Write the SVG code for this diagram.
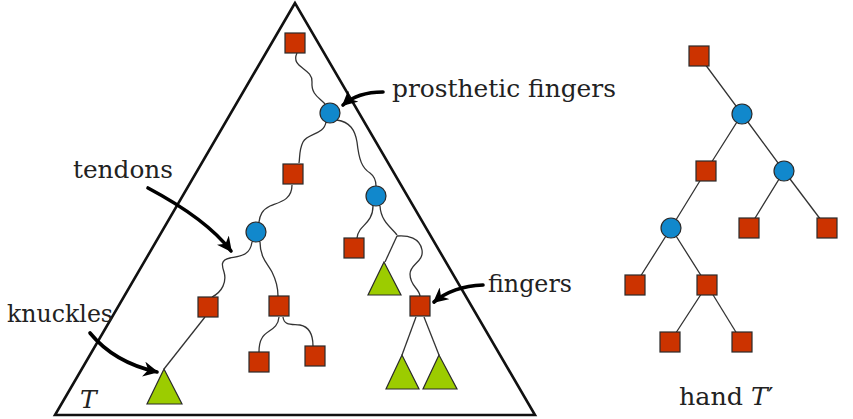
<svg xmlns="http://www.w3.org/2000/svg" width="853" height="419" viewBox="0 0 853 419">
<style>
.sq{fill:#cc3300;stroke:#2a2a2a;stroke-width:1.2}
.ci{fill:#1188cc;stroke:#2a2a2a;stroke-width:1.2}
.tr{fill:#9ccc00;stroke:#2a2a2a;stroke-width:1.2}
.ln{fill:none;stroke:#333;stroke-width:1.3}
.ar{fill:none;stroke:#000;stroke-width:3.6;stroke-linecap:round}
.lb{font-family:"DejaVu Serif","Liberation Serif",serif;font-size:25px;fill:#222}
</style>
<defs>
<marker id="ah" viewBox="0 0 10 10" refX="9" refY="5" markerWidth="4.2" markerHeight="4.2" orient="auto" markerUnits="strokeWidth">
<path d="M0,0 L10,5 L0,10 L3,5 z" fill="#000"/>
</marker>
</defs>
<rect width="853" height="419" fill="#fff"/>
<polygon id="T" points="295,3 55,415 535,415" fill="none" stroke="#111" stroke-width="2.6" stroke-linejoin="miter"/>

<g id="connectors">
<path class="ln" d="M297,53 C290,68 313,68 312,82 C311,95 320,98 325,104"/>
<path class="ln" d="M326,122 C324,135 308,133 303,142 C299,150 300,157 299,163"/>
<path class="ln" d="M337,120 C350,122 355,130 357,142 C359,160 362,168 370,173 C374,176 376,180 376,186"/>
<path class="ln" d="M292,185 C292,200 280,202 270,206 C262,210 260,215 259,222"/>
<path class="ln" d="M252,242 C250,256 240,256 230,258 C220,260 222,266 224,272 C227,282 222,292 212,297"/>
<path class="ln" d="M260,242 C260,258 268,264 272,272 C276,280 278,288 278,296"/>
<path class="ln" d="M279,317 C278,330 266,330 262,338 C259,343 259,348 259,352"/>
<path class="ln" d="M283,317 C284,326 292,324 300,325 C310,327 313,335 313,346"/>
<path class="ln" d="M205,317 L164,369"/>
<path class="ln" d="M373,206 C373,220 364,224 360,230 C358,233 357,236 357,238"/>
<path class="ln" d="M380,206 C381,222 392,228 397,235"/>
<path class="ln" d="M397,236 L385,262"/>
<path class="ln" d="M397,236 C408,235 420,238 422,250 C424,262 410,264 410,274 C410,286 419,288 420,296"/>
<path class="ln" d="M416,317 L402,355"/>
<path class="ln" d="M424,317 L439,355"/>
<path class="ln" d="M699,56 L742,114 L706,171 L671,228 L635,285"/>
<path class="ln" d="M742,114 L784,171 L749,228"/>
<path class="ln" d="M784,171 L827,228"/>
<path class="ln" d="M671,228 L707,285 L670,342"/>
<path class="ln" d="M707,285 L742,342"/>
</g>

<g id="arrows">
<path class="ar" d="M383,92 C365,92 352,97 343,105" marker-end="url(#ah)"/>
<path class="ar" d="M148,188 C180,205 212,226 231,251" marker-end="url(#ah)"/>
<path class="ar" d="M90,333 C108,355 130,366 157,372" marker-end="url(#ah)"/>
<path class="ar" d="M483,285 C460,286 446,292 434,302" marker-end="url(#ah)"/>
</g>

<g id="left-tree">
<rect id="s1" class="sq" x="285" y="33" width="20" height="20"/>
<circle id="c1" class="ci" cx="330" cy="113" r="10"/>
<rect id="s2" class="sq" x="283" y="164" width="20" height="20"/>
<circle id="c2" class="ci" cx="376" cy="196" r="10"/>
<circle id="c3" class="ci" cx="256" cy="232" r="10"/>
<rect id="s3" class="sq" x="344" y="238" width="20" height="20"/>
<polygon id="t1" class="tr" points="384,262 368,295 401,295"/>
<rect id="s4" class="sq" x="410" y="296" width="20" height="20"/>
<polygon id="t2" class="tr" points="402,355 386,389 419,389"/>
<polygon id="t3" class="tr" points="439,355 423,389 457,389"/>
<rect id="s5" class="sq" x="198" y="297" width="20" height="20"/>
<rect id="s6" class="sq" x="269" y="296" width="20" height="20"/>
<rect id="s7" class="sq" x="249" y="352" width="20" height="20"/>
<rect id="s8" class="sq" x="305" y="346" width="20" height="20"/>
<polygon id="t4" class="tr" points="164,369 147,404 182,404"/>
</g>

<g id="right-tree">
<rect id="r1" class="sq" x="689" y="46" width="20" height="20"/>
<circle id="rc1" class="ci" cx="742" cy="114" r="10"/>
<rect id="r2" class="sq" x="696" y="161" width="20" height="20"/>
<circle id="rc2" class="ci" cx="784" cy="171" r="10"/>
<circle id="rc3" class="ci" cx="671" cy="228" r="10"/>
<rect id="r3" class="sq" x="739" y="218" width="20" height="20"/>
<rect id="r4" class="sq" x="817" y="218" width="20" height="20"/>
<rect id="r5" class="sq" x="625" y="275" width="20" height="20"/>
<rect id="r6" class="sq" x="697" y="275" width="20" height="20"/>
<rect id="r7" class="sq" x="660" y="332" width="20" height="20"/>
<rect id="r8" class="sq" x="732" y="332" width="20" height="20"/>
</g>

<g id="labels">
<text class="lb" x="392" y="97" textLength="224" lengthAdjust="spacingAndGlyphs">prosthetic fingers</text>
<text class="lb" x="73" y="178" textLength="100" lengthAdjust="spacingAndGlyphs">tendons</text>
<text class="lb" x="7" y="322" textLength="106" lengthAdjust="spacingAndGlyphs">knuckles</text>
<text class="lb" x="488" y="292" textLength="84" lengthAdjust="spacingAndGlyphs">fingers</text>
<text class="lb" x="80" y="408" font-style="italic" font-size="27">T</text>
<text class="lb" x="679" y="405" font-size="27"><tspan textLength="64" lengthAdjust="spacingAndGlyphs">hand</tspan> <tspan font-style="italic">T</tspan>′</text>
</g>
</svg>
